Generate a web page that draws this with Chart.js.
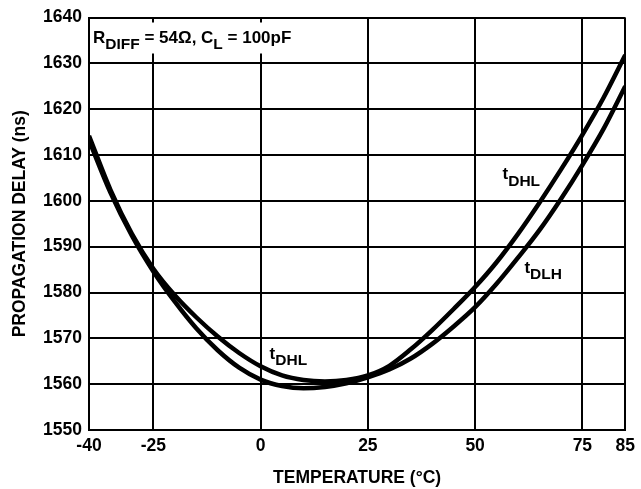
<!DOCTYPE html>
<html>
<head>
<meta charset="utf-8">
<script src="https://cdn.jsdelivr.net/npm/chart.js@4.4.1/dist/chart.umd.min.js"></script>
<style>
  html, body { margin: 0; padding: 0; background: #fff; }
</style>
</head>
<body>
<canvas id="delayChart" width="641" height="489"></canvas>
<script>
// temperature (°C) and propagation delay (ns) for both edges
const temps = [-40, -35, -30, -25, -20, -15, -10, -5, 0, 5, 10, 15, 20, 25, 30, 35, 40, 45, 50, 55, 60, 65, 70, 75, 80, 85];
const tDHL  = [1614.2, 1602.4, 1592.8, 1585.2, 1579.4, 1574.6, 1570.4, 1566.8, 1563.9, 1561.9, 1560.9, 1560.6, 1560.9, 1561.9, 1564.0, 1567.6, 1571.8, 1576.4, 1581.2, 1586.6, 1592.8, 1599.6, 1606.8, 1614.4, 1622.6, 1631.8];
const tDLH  = [1613.2, 1601.8, 1592.4, 1584.6, 1578.0, 1572.2, 1567.4, 1563.6, 1561.0, 1559.6, 1559.1, 1559.4, 1560.2, 1561.5, 1563.2, 1565.6, 1568.8, 1572.6, 1576.8, 1581.9, 1587.6, 1593.6, 1600.4, 1607.8, 1615.8, 1625.0];
const xTicks = [-40, -25, 0, 25, 50, 75, 85];

// curve labels, anchored in data units: [x, y, main, subscript]
const curveLabels = [
  [56.4, 1604.7, 't', 'DHL'],
  [61.5, 1584.3, 't', 'DLH'],
  [2.1, 1565.6, 't', 'DHL']
];

const FONT = '"Liberation Sans", Arial, sans-serif';
const MAIN = 'bold 17px ' + FONT;
const SUB = 'bold 15.5px ' + FONT;
const axisFont = { family: FONT, size: 17.5, weight: 'bold' };

// draws text runs, lowering the subscript ones
function drawRuns(ctx, x, y, runs) {
  runs.forEach(r => {
    ctx.font = r.sub ? SUB : MAIN;
    ctx.fillText(r.text, x, r.sub ? y + 6.5 : y);
    x += ctx.measureText(r.text).width;
  });
}

const annotate = {
  id: 'annotate',
  beforeDatasetsDraw(chart) {
    const { ctx, chartArea: a } = chart;
    ctx.save();
    // conditions box sits over the grid in the top-left corner
    ctx.fillStyle = '#fff';
    ctx.fillRect(a.left + 1.5, a.top + 5, 232, 31);
    ctx.fillStyle = '#000';
    ctx.textBaseline = 'alphabetic';
    drawRuns(ctx, a.left + 4, a.top + 25, [
      { text: 'R' }, { text: 'DIFF', sub: true }, { text: ' = 54Ω, C' },
      { text: 'L', sub: true }, { text: ' = 100pF' }
    ]);
    ctx.restore();
  },
  afterDatasetsDraw(chart) {
    const { ctx, scales: { x, y } } = chart;
    ctx.save();
    ctx.fillStyle = '#000';
    ctx.textBaseline = 'alphabetic';
    curveLabels.forEach(([lx, ly, main, sub]) => {
      drawRuns(ctx, x.getPixelForValue(lx), y.getPixelForValue(ly), [
        { text: main }, { text: sub, sub: true }
      ]);
    });
    ctx.restore();
  }
};

const series = (vals) => temps.map((t, i) => ({ x: t, y: vals[i] }));
const lineStyle = {
  borderColor: '#000',
  borderWidth: 4.5,
  pointRadius: 0,
  fill: false,
  cubicInterpolationMode: 'monotone'
};

new Chart(document.getElementById('delayChart'), {
  type: 'line',
  data: {
    datasets: [
      Object.assign({ label: 'tDHL', data: series(tDHL) }, lineStyle),
      Object.assign({ label: 'tDLH', data: series(tDLH) }, lineStyle)
    ]
  },
  options: {
    responsive: false,
    animation: false,
    events: [],
    layout: { padding: { top: 15, right: 10, left: 0, bottom: 0 } },
    plugins: { legend: { display: false }, tooltip: { enabled: false } },
    scales: {
      x: {
        type: 'linear',
        min: -40,
        max: 85,
        afterBuildTicks: (s) => { s.ticks = xTicks.map(v => ({ value: v })); },
        afterFit: (s) => { s.height = 59; },
        grid: { color: '#000', lineWidth: 2, drawTicks: false },
        border: { color: '#000', width: 2 },
        ticks: { color: '#000', padding: 6, maxRotation: 0, autoSkip: false, font: axisFont },
        title: { display: true, text: 'TEMPERATURE (°C)', color: '#000', padding: { top: 0, bottom: 0 }, font: axisFont }
      },
      y: {
        min: 1550,
        max: 1640,
        afterFit: (s) => { s.width = 89; },
        grid: { color: '#000', lineWidth: 2, drawTicks: false },
        border: { color: '#000', width: 2 },
        ticks: { stepSize: 10, color: '#000', padding: 7, callback: (v) => String(v), font: axisFont },
        title: { display: true, text: 'PROPAGATION DELAY (ns)', color: '#000', padding: { top: 10, bottom: 0 }, font: axisFont }
      }
    }
  },
  plugins: [annotate]
});
</script>
</body>
</html>
